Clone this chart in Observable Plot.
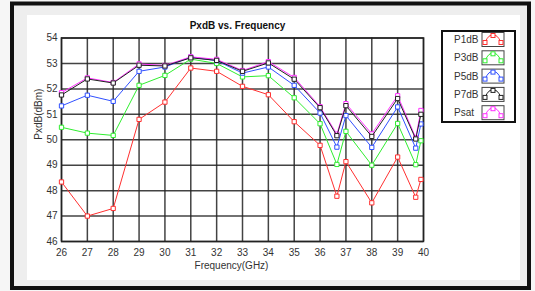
<!DOCTYPE html>
<html><head><meta charset="utf-8">
<script src="https://cdn.jsdelivr.net/npm/d3@7"></script>
<script src="https://cdn.jsdelivr.net/npm/@observablehq/plot@0.6"></script>
<style>body{margin:0;background:#f6f6f6;}</style>
</head><body><div id="chart"></div>
<script>
const freq = [26,27,28,29,30,31,32,33,34,35,36,36.65,37,38,39,39.7,39.9];
const p1dB = [48.34,47.0,47.3,50.8,51.48,52.82,52.69,52.1,51.77,50.71,49.78,47.78,49.14,47.52,49.32,47.74,48.44];
const p3dB = [50.49,50.26,50.17,52.14,52.53,53.17,53.0,52.47,52.52,51.65,50.63,49.03,50.33,49.0,50.64,49.02,49.96];
const p5dB = [51.33,51.75,51.51,52.69,52.86,53.25,53.11,52.62,52.86,52.14,51.05,49.71,50.95,49.70,51.29,49.67,50.62];
const p7dB = [51.76,52.39,52.23,52.93,52.9,53.22,53.12,52.69,53.02,52.38,51.26,50.16,51.34,50.13,51.62,50.03,51.0];
const psat = [51.85,52.43,52.25,52.98,52.92,53.26,53.16,52.72,53.07,52.45,51.3,50.22,51.42,50.23,51.73,50.08,51.15];
const seriesNames = ["P1dB","P3dB","P5dB","P7dB","Psat"];
const seriesColors = ["#ff3030","#30ee30","#3050ff","#202020","#ff30ff"];
const seriesValues = [p1dB,p3dB,p5dB,p7dB,psat];
const xTicks = [26,27,28,29,30,31,32,33,34,35,36,37,38,39,40];
const yTicks = [46,47,48,49,50,51,52,53,54];
const titleText = "PxdB vs. Frequency";
const xLabel = "Frequency(GHz)";
const yLabel = "PxdB(dBm)";

const drawOrder = [0,1,2,4,3];
const seriesMarks = [];
for (const i of drawOrder) {
  const rows = freq.map((f, j) => ({f, v: seriesValues[i][j]}));
  seriesMarks.push(Plot.line(rows, {x: "f", y: "v", stroke: seriesColors[i], strokeWidth: 1}));
  seriesMarks.push(Plot.dot(rows, {x: "f", y: "v", symbol: "square", r: 2.4, stroke: seriesColors[i], strokeWidth: 1, fill: "white"}));
}

const chart = Plot.plot({
  width: 535, height: 291,
  marginLeft: 61, marginRight: 112, marginTop: 37.5, marginBottom: 50,
  style: {fontSize: "10px", fontFamily: "Liberation Sans, Arial, sans-serif", color: "#333", background: "transparent"},
  x: {domain: [26, 40]},
  y: {domain: [46, 54]},
  marks: [
    Plot.gridX(xTicks, {stroke: "#222", strokeOpacity: 0.85, strokeWidth: 1.5}),
    Plot.gridY(yTicks, {stroke: "#222", strokeOpacity: 0.85, strokeWidth: 1.5}),
    Plot.frame({stroke: "#222", strokeWidth: 1.5}),
    Plot.axisX(xTicks, {tickSize: 0, tickPadding: 7, label: null, fontSize: 10}),
    Plot.axisY(yTicks, {tickSize: 0, tickPadding: 4, label: null, fontSize: 10}),
    ...seriesMarks,
    Plot.text([titleText], {frameAnchor: "top", dy: -16, dx: -5, fontWeight: "bold", fontSize: 10, fill: "#111"}),
    Plot.text([xLabel], {frameAnchor: "bottom", dy: 27, dx: -11, fontSize: 10, fill: "#333"}),
    Plot.text([yLabel], {frameAnchor: "left", rotate: -90, dx: -23, fontSize: 10, fill: "#333"})
  ]
});

const svg = d3.select(chart);
// backgrounds and frame
svg.insert("rect", ":first-child").attr("x", 27).attr("y", 15).attr("width", 493).attr("height", 265).attr("fill", "white");
svg.insert("rect", ":first-child").attr("x", 12).attr("y", 3.5).attr("width", 517).attr("height", 284.5)
  .attr("fill", "#eeeeee").attr("stroke", "#111").attr("stroke-width", 4);
svg.insert("rect", ":first-child").attr("x", 0).attr("y", 0).attr("width", 535).attr("height", 291).attr("fill", "#f6f6f6");

// legend
const lg = svg.append("g");
lg.append("rect").attr("x", 442).attr("y", 31).attr("width", 73).attr("height", 91)
  .attr("fill", "white").attr("stroke", "#111").attr("stroke-width", 2);
seriesNames.forEach((name, i) => {
  const cy = 39.5 + i * 18.3;
  lg.append("text").attr("x", 454).attr("y", cy).attr("dy", "0.35em").attr("text-anchor", "start")
    .attr("font-size", 10).attr("font-family", "Liberation Sans, Arial, sans-serif").attr("fill", "#333").text(name);
  const sx = 482, sy = cy - 7;
  lg.append("rect").attr("x", sx).attr("y", sy).attr("width", 22).attr("height", 14)
    .attr("fill", "white").attr("stroke", "#444").attr("stroke-width", 1);
  const pts = [[sx + 3, sy + 10], [sx + 11, sy + 3], [sx + 19, sy + 10]];
  lg.append("path").attr("d", `M${pts[0]}Q${sx+7},${sy+1} ${pts[1]}Q${sx+15},${sy+1} ${pts[2]}`)
    .attr("fill", "none").attr("stroke", seriesColors[i]).attr("stroke-width", 1);
  pts.forEach(p => lg.append("rect").attr("x", p[0] - 2).attr("y", p[1] - 2).attr("width", 4).attr("height", 4)
    .attr("fill", "white").attr("stroke", seriesColors[i]).attr("stroke-width", 1));
});

document.getElementById("chart").appendChild(chart);
</script>
</body></html>
